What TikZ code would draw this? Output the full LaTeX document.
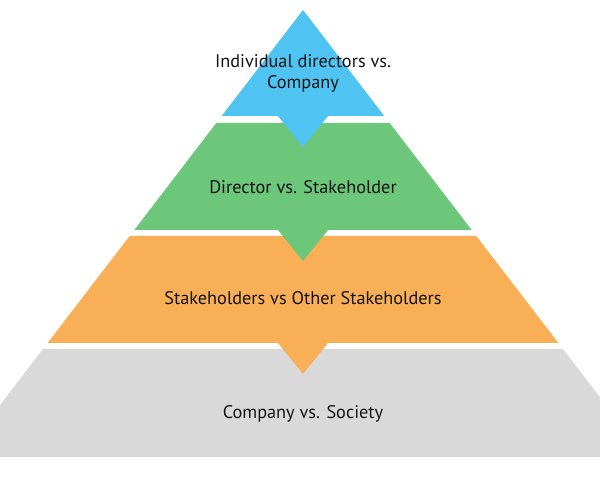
\documentclass[tikz,border=0pt]{standalone}
\usepackage{fontspec}
\setmainfont{PT Sans}
\usepackage{tikz}
\usepackage{xcolor}

\definecolor{lagblauw}{HTML}{4FC3F1}
\definecolor{laggroen}{HTML}{6CC77A}
\definecolor{lagoranje}{HTML}{F8AF56}
\definecolor{laggrijs}{HTML}{D9D9D9}
\definecolor{tekst}{HTML}{141414}

\tikzset{
  laag/.style={text=tekst,font=\fontsize{10.4}{12}\selectfont,align=center}
}

\begin{document}
\begin{tikzpicture}[x=0.02cm,y=-0.02cm]
        \useasboundingbox (0,0) rectangle (600,480);
        \clip (0,0) rectangle (600,480);
        % Onderste laag (grijs)
        \fill[laggrijs] (43,349) -- (563,349) -- (645.8,457) -- (-39.8,457) -- cycle;
        % Derde laag (oranje) met punt
        \fill[lagoranje] (129.7,236) -- (476.3,236) -- (558.4,343) -- (328,343)
            -- (303,374) -- (278,343) -- (47.6,343) -- cycle;
        % Tweede laag (groen) met punt
        \fill[laggroen] (216.3,123) -- (389.7,123) -- (471.7,230) -- (328,230)
            -- (303,261) -- (278,230) -- (134.3,230) -- cycle;
        % Top (blauw) met punt
        \fill[lagblauw] (303,10) -- (384.3,116) -- (328,116)
            -- (303,147) -- (278,116) -- (221.7,116) -- cycle;
        % Labels
        \node[laag] (top) at (303,73) {Individual directors vs.\\Company};
        \node[laag] (tweede) at (303,187) {Director vs. Stakeholder};
        \node[laag] (derde) at (303,298) {Stakeholders vs Other Stakeholders};
        \node[laag] (basis) at (303,414) {Company vs. Society};
    \end{tikzpicture}
\end{document}
